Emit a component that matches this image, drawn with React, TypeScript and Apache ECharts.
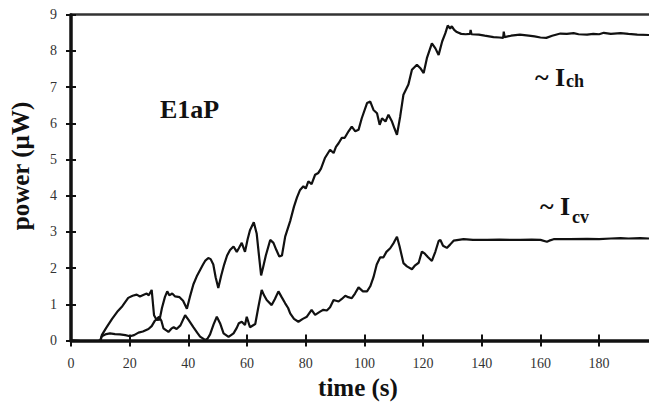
import React, { useEffect, useRef } from "react";
import * as echarts from "echarts";

// ~I_ch trace (upper curve)
const ichTime = [0, 5, 8, 10, 10.5, 12, 14, 16, 17.5, 19.5, 21, 22.4, 23.5, 24.6, 25.8, 26.5, 27.5, 28.3, 29.2, 30.2, 31, 32, 32.8, 33.5, 34.5, 35.5, 37, 38.2, 39.5, 40.5, 41.7, 43, 44, 45, 45.7, 46.8, 47.6, 48.5, 49.3, 50.2, 51.2, 52.2, 53.2, 54.2, 55.4, 56.5, 57.2, 58.2, 59.3, 60.2, 61, 62.3, 63.3, 64, 64.8, 65.6, 66.4, 67.9, 69, 70, 71, 71.9, 73, 74.7, 76, 77, 78, 79.2, 80, 80.9, 82, 83.2, 84.3, 85.2, 86.6, 88.3, 89.5, 90.3, 91.2, 92.3, 93.3, 94.6, 95.7, 96.9, 98, 99.1, 100.9, 102, 103.1, 104.3, 105.2, 106, 107.2, 108.2, 109.4, 110.3, 111.1, 112.2, 113.3, 115, 116.2, 117.9, 119, 120.2, 121.3, 123, 124.2, 125.3, 126.5, 127.6, 128.4, 129.2, 129.8, 130.6, 131.5, 133, 134.5, 136, 136.2, 136.5, 139, 141, 144, 146, 147.3, 147.5, 147.8, 150, 153, 156, 158, 160, 162, 164, 166.8, 169, 171.3, 173, 175.9, 178, 180, 181.6, 184, 187.3, 190, 193, 197];
const ichPower = [0, -0.02, -0.04, 0, 0.15, 0.35, 0.6, 0.82, 0.95, 1.18, 1.24, 1.27, 1.22, 1.26, 1.3, 1.25, 1.4, 0.7, 0.57, 0.58, 0.9, 1.2, 1.36, 1.25, 1.3, 1.22, 1.2, 1.1, 0.88, 1.2, 1.55, 1.8, 1.95, 2.1, 2.2, 2.28, 2.25, 2.1, 1.75, 1.45, 1.8, 2.1, 2.35, 2.5, 2.6, 2.45, 2.55, 2.7, 2.45, 2.8, 3.05, 3.27, 2.95, 2.4, 1.8, 2.07, 2.35, 2.78, 2.7, 2.5, 2.32, 2.35, 2.87, 3.3, 3.7, 3.95, 4.15, 4.26, 4.2, 4.4, 4.32, 4.58, 4.63, 4.75, 5.05, 5.27, 5.18, 5.35, 5.45, 5.6, 5.6, 5.78, 5.91, 5.78, 5.82, 6.14, 6.56, 6.6, 6.37, 6.28, 5.96, 6.14, 6.05, 6.24, 6.05, 5.85, 5.68, 6.19, 6.79, 7.07, 7.48, 7.62, 7.53, 7.39, 7.8, 8.21, 8.07, 7.89, 8.26, 8.49, 8.7, 8.62, 8.68, 8.58, 8.52, 8.47, 8.46, 8.47, 8.58, 8.46, 8.45, 8.42, 8.38, 8.37, 8.36, 8.53, 8.38, 8.42, 8.45, 8.42, 8.4, 8.37, 8.36, 8.42, 8.48, 8.47, 8.49, 8.46, 8.45, 8.47, 8.46, 8.5, 8.47, 8.49, 8.47, 8.45, 8.44];

// ~I_cv trace (lower curve)
const icvTime = [0, 5, 8, 10, 10.5, 12, 13.3, 15, 16.7, 18.5, 20.1, 21.5, 23, 24.5, 26.4, 27.5, 28.6, 30, 30.8, 31.5, 32.5, 33.2, 34.2, 35, 36, 37.3, 38.9, 40, 41.7, 43, 44, 45.7, 46.5, 47.4, 48.6, 49.7, 50.8, 52, 53.7, 55.4, 56.5, 57.2, 58.2, 59.3, 59.9, 61, 62.8, 63.8, 65, 65.8, 66.7, 68.4, 69.5, 70.7, 71.8, 73, 74, 74.7, 76, 77.5, 79, 80.4, 82, 83.2, 84.9, 86, 87.2, 88.3, 89.5, 91.2, 92.3, 93.5, 94.5, 95.7, 96.8, 98, 99.5, 100.9, 102, 103.1, 104.2, 105.4, 106.5, 107.5, 108.8, 110, 111.1, 112, 113.3, 114.5, 116.2, 117.3, 118.5, 119.6, 120.6, 121.7, 123, 124.2, 125.3, 125.9, 126.8, 128.1, 129.2, 130.4, 133.8, 137, 141.8, 146, 150, 153.1, 157, 160, 162.2, 163, 164.5, 170, 175.9, 180, 184, 187.3, 190, 194, 197];
const icvPower = [0, -0.02, -0.04, 0, 0.12, 0.18, 0.2, 0.18, 0.17, 0.15, 0.12, 0.15, 0.22, 0.25, 0.32, 0.4, 0.55, 0.66, 0.55, 0.34, 0.28, 0.24, 0.33, 0.37, 0.32, 0.42, 0.7, 0.58, 0.37, 0.22, 0.11, 0.02, 0.05, 0.17, 0.45, 0.66, 0.48, 0.2, 0.1, 0.2, 0.35, 0.48, 0.52, 0.43, 0.66, 0.37, 0.46, 0.9, 1.4, 1.25, 1.12, 0.98, 1.15, 1.36, 1.2, 1.03, 0.9, 0.75, 0.6, 0.52, 0.6, 0.66, 0.85, 0.71, 0.8, 0.85, 0.83, 0.92, 1.12, 1.08, 1.15, 1.24, 1.2, 1.17, 1.3, 1.47, 1.36, 1.36, 1.5, 1.75, 2.1, 2.3, 2.3, 2.45, 2.55, 2.7, 2.87, 2.6, 2.14, 2.05, 1.97, 2.08, 2.15, 2.46, 2.4, 2.3, 2.2, 2.46, 2.75, 2.78, 2.62, 2.56, 2.65, 2.76, 2.8, 2.78, 2.78, 2.79, 2.78, 2.78, 2.79, 2.78, 2.73, 2.76, 2.8, 2.8, 2.81, 2.8, 2.82, 2.83, 2.82, 2.83, 2.82];

const xTicks = [0, 20, 40, 60, 80, 100, 120, 140, 160, 180];
const yTicks = [0, 1, 2, 3, 4, 5, 6, 7, 8, 9];

const SERIF = "Liberation Serif";

function zip(xs: number[], ys: number[]) {
  return xs.map((x, i) => [x, ys[i]]);
}

function txt(x: number, y: number, text: string, size: number, align = "left", rotation = 0) {
  return {
    type: "text", x, y, rotation,
    style: {
      text, fontFamily: SERIF, fontSize: size, fontWeight: "bold", fill: "#111",
      align, verticalAlign: "middle",
    },
  };
}

export default function App() {
  const ref = useRef<HTMLDivElement>(null);
  useEffect(() => {
    if (!ref.current) return;
    const chart = echarts.init(ref.current, null, { renderer: "svg" });
    const axisColor = "#111";
    const labelStyle = { color: "#333", fontFamily: SERIF, fontSize: 14 };
    chart.setOption({
      animation: false,
      backgroundColor: "#fff",
      textStyle: { fontFamily: SERIF },
      grid: { left: 71, right: 0, top: 14.7, bottom: 63.4, containLabel: false },
      xAxis: [
        {
          type: "value", min: 0, max: 197, interval: 20, position: "bottom",
          axisLine: { show: true, onZero: false, lineStyle: { color: axisColor, width: 3.5 } },
          axisTick: { show: true, inside: false, length: 6, customValues: xTicks, lineStyle: { color: axisColor, width: 2 } },
          axisLabel: { show: true, margin: 16, customValues: xTicks, ...labelStyle },
          splitLine: { show: false },
        },
        {
          type: "value", min: 0, max: 197, interval: 20, position: "bottom",
          axisLine: { show: false, onZero: false },
          axisTick: { show: true, inside: true, length: 6, customValues: xTicks, lineStyle: { color: axisColor, width: 2 } },
          axisLabel: { show: false },
          splitLine: { show: false },
        },
        {
          type: "value", min: 0, max: 197, position: "top",
          axisLine: { show: true, onZero: false, lineStyle: { color: "#333", width: 2.6 } },
          axisTick: { show: false },
          axisLabel: { show: false },
          splitLine: { show: false },
        },
      ],
      yAxis: [
        {
          type: "value", min: 0, max: 9, interval: 1, position: "left",
          axisLine: { show: true, onZero: false, lineStyle: { color: axisColor, width: 3.5 } },
          axisTick: { show: true, inside: false, length: 5, customValues: yTicks, lineStyle: { color: axisColor, width: 2 } },
          axisLabel: { show: true, margin: 14, customValues: yTicks, ...labelStyle },
          splitLine: { show: false },
        },
        {
          type: "value", min: 0, max: 9, interval: 1, position: "left",
          axisLine: { show: false, onZero: false },
          axisTick: { show: true, inside: true, length: 5, customValues: yTicks, lineStyle: { color: axisColor, width: 2 } },
          axisLabel: { show: false },
          splitLine: { show: false },
        },
      ],
      series: [
        {
          type: "line", xAxisIndex: 0, yAxisIndex: 0, showSymbol: false, symbol: "none",
          data: zip(ichTime, ichPower),
          lineStyle: { color: "#111", width: 2.2 }, z: 3,
        },
        {
          type: "line", xAxisIndex: 0, yAxisIndex: 0, showSymbol: false, symbol: "none",
          data: zip(icvTime, icvPower),
          lineStyle: { color: "#111", width: 2.2 }, z: 3,
        },
      ],
      graphic: [
        txt(160, 109, "E1aP", 26),
        txt(535, 77, "~ I", 26),
        txt(566, 81, "ch", 18),
        txt(540, 206, "~ I", 26),
        txt(572, 217, "cv", 18),
        txt(358, 387, "time (s)", 25, "center"),
        txt(20, 166, "power (\u00b5W)", 25, "center", Math.PI / 2),
      ],
    });
    return () => chart.dispose();
  }, []);
  return (
    <div style={{ position: "absolute", left: 0, top: 0, width: 649, height: 404, background: "#fff" }}>
      <div ref={ref} style={{ width: 649, height: 404 }} />
    </div>
  );
}
